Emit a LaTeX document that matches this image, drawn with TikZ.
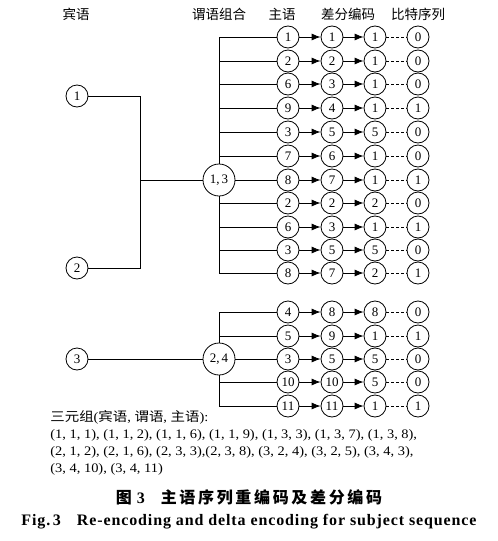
\documentclass[tikz,border=0pt]{standalone}
\usepackage{fontspec}
\setmainfont{Liberation Serif}
\newfontfamily\cjk{Noto Sans CJK SC}
\newfontfamily\widefont[FakeStretch=1.11]{Liberation Serif}
\newfontfamily\widecjk[FakeStretch=1.11]{Noto Sans CJK SC}
\newfontfamily\capfont[LetterSpace=5.5]{Liberation Serif}
\usetikzlibrary{arrows.meta}

\begin{document}
\begin{tikzpicture}[x=1pt,y=-1pt,>={Latex[length=9pt,width=7pt]},line width=0.8pt,
    num/.style={circle,draw,fill=white,minimum size=22pt,inner sep=0pt,font=\fontsize{13}{13}\selectfont},
    pred/.style={num,minimum size=32pt},
    head/.style={font=\cjk\fontsize{13.5}{14}\selectfont},
    txt/.style={anchor=west,inner sep=0pt,font=\widefont\fontsize{13}{14}\selectfont}]
    \useasboundingbox (0,0) rectangle (498,541);
    % column headings
    \node[head] (h0) at (76,14) {宾语};
    \node[head] (h1) at (219,14) {谓语组合};
    \node[head] (h2) at (282,14) {主语};
    \node[head] (h3) at (348,14) {差分编码};
    \node[head] (h4) at (418,14) {比特序列};
    % objects and predicate groups
    \node[num] (o1) at (77,96) {1};
    \node[num] (o2) at (77,268) {2};
    \node[num] (o3) at (77,359) {3};
    \node[pred] (p1) at (219,180) {1,\,3};
    \node[pred] (p2) at (219,359) {2,\,4};
    \coordinate (j1) at (140,180);
    \draw (o1) -| (j1);
    \draw (o2) -| (j1);
    \draw (j1) -- (p1);
    \draw (o3) -- (p2);
    % rows: y / subject / delta / code / bit / group / anchor
    \foreach \y/\s/\d/\c/\b/\g/\a [count=\i] in {
        37/1/1/1/0/p1/north, 61/2/2/1/0/p1/north, 84/6/3/1/0/p1/north,
        108/9/4/1/1/p1/north, 132/3/5/5/0/p1/north, 156/7/6/1/0/p1/north,
        180/8/7/1/1/p1/east, 203/2/2/2/0/p1/south, 227/6/3/1/1/p1/south,
        250/3/5/5/0/p1/south, 273/8/7/2/1/p1/south,
        312/4/8/8/0/p2/north, 336/5/9/1/1/p2/north, 359/3/5/5/0/p2/east,
        382/10/10/5/0/p2/south, 406/11/11/1/1/p2/south} {
      \node[num] (s\i) at (288,\y) {\s};
      \node[num] (d\i) at (332,\y) {\d};
      \node[num] (c\i) at (375,\y) {\c};
      \node[num] (b\i) at (418,\y) {\b};
      \draw (\g.\a) |- (s\i);
      \draw[->] (s\i) -- (d\i);
      \draw[->] (d\i) -- (c\i);
      \draw[dash pattern=on 3pt off 2pt] (c\i) -- (b\i);
    }
    % triples
    \node[txt] (t0) at (50,417) {{\widecjk 三元组}({\widecjk 宾语}, {\widecjk 谓语}, {\widecjk 主语}):};
    \node[txt] (t1) at (50,435) {(1, 1, 1), (1, 1, 2), (1, 1, 6), (1, 1, 9), (1, 3, 3), (1, 3, 7), (1, 3, 8),};
    \node[txt] (t2) at (50,452) {(2, 1, 2), (2, 1, 6), (2, 3, 3),(2, 3, 8), (3, 2, 4), (3, 2, 5), (3, 4, 3),};
    \node[txt] (t3) at (50,469) {(3, 4, 10), (3, 4, 11)};
    % caption
    \node[font=\cjk\bfseries\fontsize{16}{17}\selectfont] (cap1) at (249,497) {图\hspace{5pt}{\bfseries\rmfamily 3}\hspace{16pt}主\,语\,序\,列\,重\,编\,码\,及\,差\,分\,编\,码};
    \node[font=\capfont\bfseries\fontsize{16}{17}\selectfont] (cap2) at (249,522) {Fig.\,3\quad Re-encoding and delta encoding for subject sequence};
\end{tikzpicture}
\end{document}
